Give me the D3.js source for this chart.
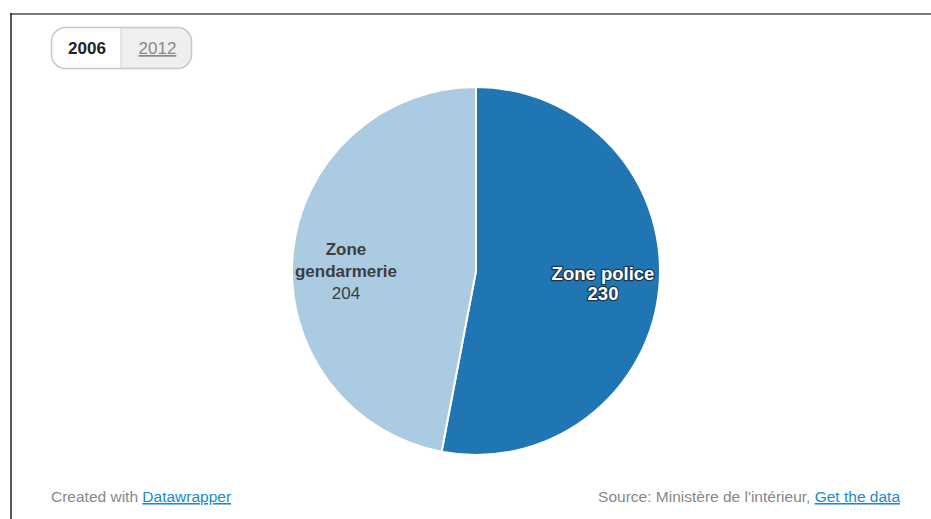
<!DOCTYPE html>
<html>
<head>
<meta charset="utf-8">
<script src="https://cdn.jsdelivr.net/npm/d3@7"></script>
<style>
  html, body { margin: 0; padding: 0; background: #fff; }
  svg { display: block; }
</style>
</head>
<body>
<svg id="chart" width="931" height="519"></svg>
<script>
const categories = ["Zone police", "Zone gendarmerie"];
const values = [230, 204];
const years = ["2006", "2012"];
const colors = ["#2075b3", "#abcbe3"];

const svg = d3.select("#chart");
const W = 931, H = 519;
const font = "Liberation Sans, Arial, sans-serif";

// frame
svg.append("line").attr("x1", 10).attr("x2", W).attr("y1", 14).attr("y2", 14)
  .attr("stroke", "#7a7a7a").attr("stroke-width", 2);
svg.append("line").attr("x1", 11).attr("x2", 11).attr("y1", 13).attr("y2", H)
  .attr("stroke", "#222").attr("stroke-width", 1.5);

// year buttons
const bx = 51, by = 27, bw = 141, bh = 42, split = 121;
const defs = svg.append("defs");
defs.append("clipPath").attr("id", "btnclip").append("rect")
  .attr("x", bx).attr("y", by).attr("width", bw).attr("height", bh).attr("rx", 14);
const bg = svg.append("g").attr("clip-path", "url(#btnclip)");
bg.append("rect").attr("x", bx).attr("y", by).attr("width", split - bx).attr("height", bh).attr("fill", "#fff");
bg.append("rect").attr("x", split).attr("y", by).attr("width", bx + bw - split).attr("height", bh).attr("fill", "#efefef");
bg.append("line").attr("x1", split).attr("x2", split).attr("y1", by).attr("y2", by + bh).attr("stroke", "#cfcfcf");
svg.append("rect").attr("x", bx + 0.5).attr("y", by + 0.5).attr("width", bw - 1).attr("height", bh - 1).attr("rx", 14)
  .attr("fill", "none").attr("stroke", "#c8c8c8").attr("stroke-width", 1.5);
svg.append("text").attr("x", (bx + split) / 2 + 1).attr("y", by + 27).attr("text-anchor", "middle")
  .attr("font-family", font).attr("font-size", 17).attr("font-weight", "bold").attr("fill", "#222").text(years[0]);
svg.append("text").attr("x", (split + bx + bw) / 2 + 1).attr("y", by + 27).attr("text-anchor", "middle")
  .attr("font-family", font).attr("font-size", 17).attr("fill", "#888").attr("text-decoration", "underline").text(years[1]);

// pie
const cx = 476, cy = 271, r = 184;
const pie = d3.pie().sort(null).value(d => d.v);
const arcs = pie(categories.map((c, i) => ({ c, v: values[i], col: colors[i] })));
const arc = d3.arc().innerRadius(0).outerRadius(r);
const g = svg.append("g").attr("transform", `translate(${cx},${cy})`);
g.selectAll("path").data(arcs).join("path")
  .attr("d", arc).attr("fill", d => d.data.col)
  .attr("stroke", "#fff").attr("stroke-width", 2);

// labels
arcs.forEach((d, i) => {
  const t = g.append("text").attr("text-anchor", "middle").attr("font-family", font);
  if (i === 0) {
    t.attr("fill", "#fff").attr("font-weight", "bold").attr("font-size", 18.5)
      .attr("stroke", "#1a3550").attr("stroke-width", 2.5).attr("paint-order", "stroke")
      .attr("stroke-linejoin", "round");
    t.append("tspan").attr("x", 127).attr("y", 9).text(d.data.c);
    t.append("tspan").attr("x", 127).attr("y", 29).text(d.data.v);
  } else {
    t.attr("fill", "#3d3d3d").attr("font-size", 17);
    const parts = d.data.c.split(" ");
    t.append("tspan").attr("x", -130).attr("y", -16).attr("font-weight", "bold").text(parts[0]);
    t.append("tspan").attr("x", -130).attr("y", 6).attr("font-weight", "bold").text(parts[1]);
    t.append("tspan").attr("x", -130).attr("y", 28).text(d.data.v);
  }
});

// footer
const ft = svg.append("text").attr("x", 51).attr("y", 502).attr("font-family", font).attr("font-size", 15.5).attr("fill", "#888");
ft.append("tspan").text("Created with ");
ft.append("tspan").attr("fill", "#1a8bd0").attr("text-decoration", "underline").text("Datawrapper");
const fr = svg.append("text").attr("x", 900).attr("y", 502).attr("text-anchor", "end").attr("font-family", font).attr("font-size", 15.5).attr("fill", "#888");
fr.append("tspan").text("Source: Ministère de l'intérieur, ");
fr.append("tspan").attr("fill", "#1a8bd0").attr("text-decoration", "underline").text("Get the data");
</script>
</body>
</html>
